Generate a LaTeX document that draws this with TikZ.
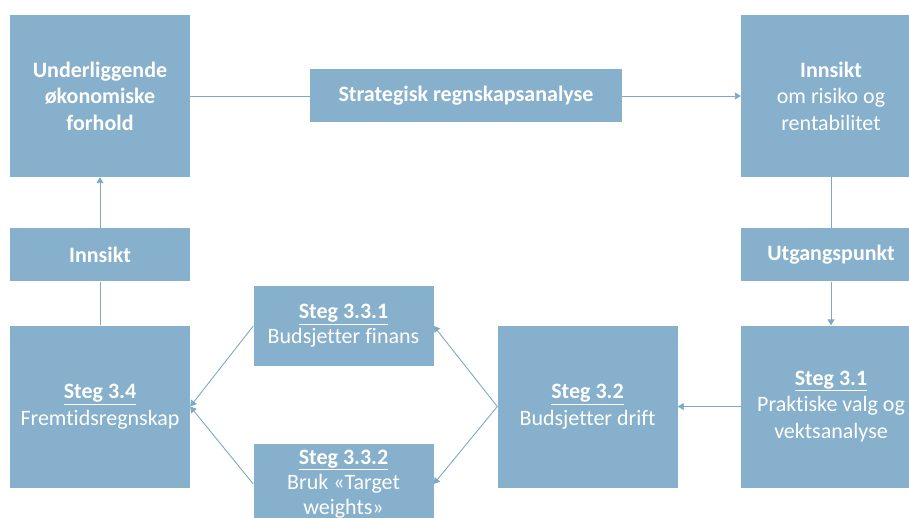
\documentclass[tikz,border=0pt]{standalone}
\usepackage{fontspec}
\setmainfont[Ligatures=NoCommon]{Carlito}
\usepackage{tikz}
\usetikzlibrary{arrows.meta, positioning}
\definecolor{boxblue}{HTML}{86B0CB}
\definecolor{lineblue}{HTML}{7EA9C6}

\begin{document}
\begin{tikzpicture}[
    x=1pt, y=-1pt,
    bigbox/.style = {rectangle, fill=boxblue, draw=none, align=center, text=white, font=\fontsize{22}{26.5}\selectfont, inner sep=0pt, minimum width=180pt, minimum height=162pt},
    barbox/.style = {bigbox, minimum height=53pt},
    midbox/.style = {bigbox, minimum height=80pt, font=\fontsize{22}{25}\selectfont},
    link/.style = {draw=lineblue, line width=0.9pt},
    arrow/.style = {link, -{Triangle[width=7pt, length=6pt]}}
]
\clip (0,0) rectangle (909,518);

% Top row
\node (under) [bigbox] at (100, 96) {\textbf{Underliggende}\\\textbf{økonomiske}\\\textbf{forhold}};
\node (strat) [barbox, minimum width=312pt] at (466, 96) {\textbf{Strategisk regnskapsanalyse}};
\node (insR) [bigbox] at (831, 96) {\textbf{Innsikt}\\om risiko og\\rentabilitet};

% Middle bars
\node (insL) [barbox] at (100, 255) {\textbf{Innsikt}};
\node (utg) [barbox] at (831, 255) {\textbf{Utgangspunkt}};

% Bottom row
\node (s34) [bigbox] at (100, 406.5) {\textbf{\underline{Steg 3.4}}\\Fremtidsregnskap};
\node (s331) [midbox] at (343.5, 326) {\textbf{\underline{Steg 3.3.1}}\\Budsjetter finans};
\node (s332) [midbox] at (343.5, 484) {\textbf{\underline{Steg 3.3.2}}\\Bruk «Target\\weights»};
\node (s32) [bigbox] at (587.5, 406.5) {\textbf{\underline{Steg 3.2}}\\Budsjetter drift};
\node (s31) [bigbox] at (831, 406.5) {\textbf{\underline{Steg 3.1}}\\Praktiske valg og\\vektsanalyse};

% Connections
\draw [link] (under.east) -- (strat.west);
\draw [arrow] (strat.east) -- (insR.west);
\draw [link] (insR.south) -- (utg.north);
\draw [arrow] (utg.south) -- (s31.north);
\draw [arrow] (s31.west) -- (s32.east);
\draw [arrow] (s32.west) -- (s331.east);
\draw [arrow] (s32.west) -- (s332.east);
\draw [arrow] (s331.west) -- (s34.east);
\draw [arrow] (s332.west) -- (s34.east);
\draw [link] (s34.north) -- (insL.south);
\draw [arrow] (insL.north) -- (under.south);

\end{tikzpicture}
\end{document}
